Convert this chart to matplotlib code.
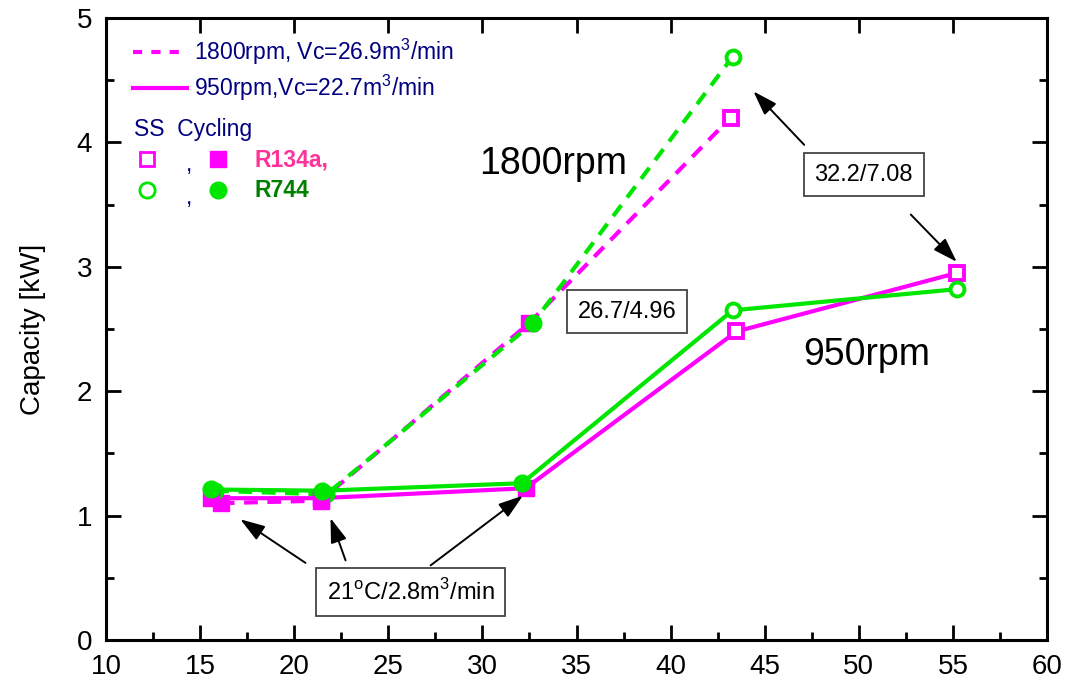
import matplotlib.pyplot as plt
from matplotlib.ticker import MultipleLocator

plt.rcParams['font.family'] = ['Liberation Sans', 'DejaVu Sans']
plt.rcParams['mathtext.fontset'] = 'custom'
plt.rcParams['mathtext.rm'] = 'Liberation Sans'

MAG = '#FF00FF'
GRN = '#00E600'

# 1800rpm (dashed)
x_r134a_18 = [16.1, 21.4, 32.5, 43.2]
y_r134a_18 = [1.10, 1.12, 2.55, 4.20]
x_r744_18 = [15.8, 21.7, 32.7, 43.3]
y_r744_18 = [1.20, 1.17, 2.55, 4.69]

# 950rpm (solid)
x_r134a_95 = [15.6, 21.4, 32.3, 43.5, 55.2]
y_r134a_95 = [1.14, 1.14, 1.22, 2.48, 2.95]
x_r744_95 = [15.6, 21.5, 32.1, 43.3, 55.2]
y_r744_95 = [1.21, 1.20, 1.26, 2.65, 2.82]

n_cyc = 3   # first points are cycling (filled), rest steady state (open)

fig = plt.figure(figsize=(10.67, 6.81), dpi=100)
ax = fig.add_axes([0.0993, 0.0602, 0.8820, 0.9134])

lw = 3
ms = 11
dsh = (3.3, 2.3)

ax.plot(x_r134a_18, y_r134a_18, color=MAG, lw=lw, dashes=dsh)
ax.plot(x_r744_18, y_r744_18, color=GRN, lw=lw, dashes=dsh)
ax.plot(x_r134a_95, y_r134a_95, color=MAG, lw=lw)
ax.plot(x_r744_95, y_r744_95, color=GRN, lw=lw)
for x, y, c, m in [(x_r134a_18, y_r134a_18, MAG, 's'),
                   (x_r744_18, y_r744_18, GRN, 'o'),
                   (x_r134a_95, y_r134a_95, MAG, 's'),
                   (x_r744_95, y_r744_95, GRN, 'o')]:
    ax.plot(x[:n_cyc], y[:n_cyc], ls='none', marker=m, ms=ms + 1, color=c)
    ax.plot(x[n_cyc:], y[n_cyc:], ls='none', marker=m, ms=ms - 1, mfc='white', mec=c, mew=2.8)

ax.set_xlim(10, 60)
ax.set_ylim(0, 5)
ax.xaxis.set_major_locator(MultipleLocator(5))
ax.xaxis.set_minor_locator(MultipleLocator(2.5))
ax.yaxis.set_major_locator(MultipleLocator(1))
ax.yaxis.set_minor_locator(MultipleLocator(0.5))
ax.tick_params(which='both', direction='in', top=True, right=True, labelsize=20, width=2)
ax.tick_params(which='major', length=11)
ax.tick_params(axis='x', which='major', pad=10)
ax.tick_params(axis='y', which='major', pad=10)
ax.tick_params(which='minor', length=6, top=False)
for s in ax.spines.values():
    s.set_linewidth(2.2)
ax.set_ylabel('Capacity [kW]', fontsize=20, labelpad=22)

# legend drawn by hand
navy = '#000080'
fs = 16.5
ax.plot([11.45, 14.3], [4.73, 4.73], color=MAG, lw=lw, dashes=(2.2, 2.2))
ax.text(14.7, 4.73, '1800rpm, Vc=26.9m$^3$/min', color=navy, fontsize=fs, va='center')
ax.plot([11.45, 14.3], [4.44, 4.44], color=MAG, lw=lw)
ax.text(14.7, 4.44, '950rpm,Vc=22.7m$^3$/min', color=navy, fontsize=fs, va='center')
ax.text(11.5, 4.10, 'SS  Cycling', color=navy, fontsize=fs, va='center')
ax.plot([12.2], [3.87], ls='none', marker='s', ms=10, mfc='white', mec=MAG, mew=2)
ax.text(14.25, 3.82, ',', color=navy, fontsize=fs, va='center')
ax.plot([15.95], [3.87], ls='none', marker='s', ms=11, color=MAG)
ax.text(17.9, 3.86, 'R134a,', color='#FF3399', fontsize=fs, fontweight='bold', va='center')
ax.plot([12.2], [3.62], ls='none', marker='o', ms=11, mfc='white', mec=GRN, mew=2)
ax.text(14.25, 3.56, ',', color=navy, fontsize=fs, va='center')
ax.plot([15.95], [3.62], ls='none', marker='o', ms=12, color=GRN)
ax.text(17.9, 3.61, 'R744', color='#008000', fontsize=fs, fontweight='bold', va='center')

ax.text(33.75, 3.83, '1800rpm', fontsize=27, ha='center', va='center')
ax.text(50.4, 2.29, '950rpm', fontsize=27, ha='center', va='center')

bbox = dict(boxstyle='square,pad=0.45', fc='white', ec='#444444', lw=1.3)
ap = dict(arrowstyle='-|>,head_length=1.5,head_width=0.5', color='black', lw=1.4,
          shrinkA=0, shrinkB=0)

ax.text(50.26, 3.74, '32.2/7.08', fontsize=17, ha='center', va='center', bbox=bbox)
ax.annotate('', xy=(44.4, 4.41), xytext=(47.1, 3.98), arrowprops=ap)
ax.annotate('', xy=(55.2, 3.04), xytext=(52.76, 3.42), arrowprops=ap)

ax.text(37.69, 2.64, '26.7/4.96', fontsize=17, ha='center', va='center', bbox=bbox)

ax.text(26.19, 0.386, '21$^{\\rm o}$C/2.8m$^3$/min', fontsize=17, ha='center', va='center',
        bbox=bbox)
ax.annotate('', xy=(17.14, 0.97), xytext=(20.6, 0.62), arrowprops=ap)
ax.annotate('', xy=(21.93, 0.98), xytext=(22.73, 0.64), arrowprops=ap)
ax.annotate('', xy=(32.15, 1.16), xytext=(27.25, 0.60), arrowprops=ap)

fig.savefig('out.png', dpi=100)
